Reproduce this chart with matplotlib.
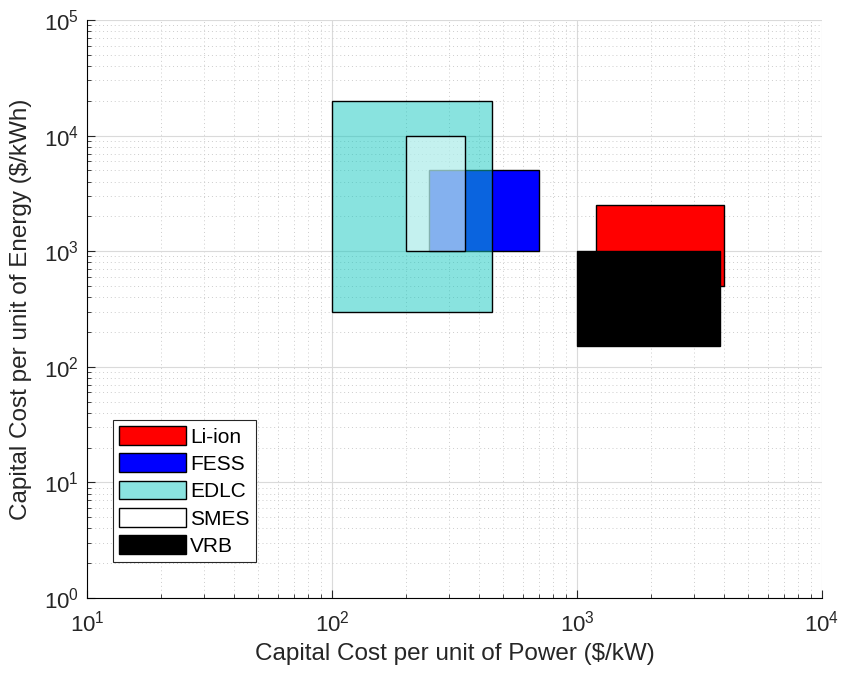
import matplotlib.pyplot as plt
from matplotlib.colors import to_rgb
from matplotlib.patches import Rectangle

plt.rcParams['font.family'] = ['Liberation Sans', 'DejaVu Sans']
plt.rcParams['mathtext.fontset'] = 'custom'
plt.rcParams['mathtext.rm'] = 'Liberation Sans'

# technologies: power cost range ($/kW) and energy cost range ($/kWh)
names = ["Li-ion", "FESS", "EDLC", "SMES", "VRB"]
power_lo = [1200, 250, 100, 200, 1000]
power_hi = [4000, 700, 450, 350, 3850]
energy_lo = [500, 1000, 300, 1000, 150]
energy_hi = [2500, 5000, 20000, 10000, 1000]
colors = ["#ff0000", "#0000ff", "#14c8c0", "#ffffff", "#000000"]
alphas = [1.0, 1.0, 0.5, 0.5, 1.0]

fig = plt.figure(figsize=(8.41, 6.76), dpi=100)
ax = fig.add_axes([0.1034, 0.1154, 0.874, 0.855])
ax.set_xscale("log")
ax.set_yscale("log")
ax.set_xlim(10, 1e4)
ax.set_ylim(1, 1e5)

handles = []
for i, name in enumerate(names):
    r = Rectangle((power_lo[i], energy_lo[i]), power_hi[i] - power_lo[i],
                  energy_hi[i] - energy_lo[i],
                  facecolor=(*to_rgb(colors[i]), alphas[i]),
                  edgecolor="black", linewidth=1.0, zorder=3 + i)
    ax.add_patch(r)
    handles.append(r)

ax.grid(True, which="major", color="#dadada", linewidth=0.8, linestyle="-")
ax.grid(True, which="minor", color="#cccccc", linewidth=0.7, linestyle=(0, (1, 3)))
ax.set_axisbelow(True)

ax.spines["top"].set_visible(False)
ax.spines["right"].set_visible(False)
ax.tick_params(which="both", direction="in", top=False, right=False,
               labelsize=16, color="#262626", labelcolor="#262626")
ax.tick_params(axis="x", which="major", length=6, pad=9)
ax.tick_params(axis="y", which="major", length=6, pad=6)
ax.tick_params(which="minor", length=3)

ax.set_xlabel("Capital Cost per unit of Power ($/kW)", fontsize=17.5, color="#262626",
              labelpad=5)
ax.set_ylabel("Capital Cost per unit of Energy ($/kWh)", fontsize=17.5, color="#262626",
              labelpad=8)

leg = ax.legend(handles, names, loc="lower left",
                bbox_to_anchor=(0.035, 0.062), fontsize=15, fancybox=False,
                edgecolor="#262626", framealpha=1, handlelength=3.2,
                handleheight=1.0, handletextpad=0.2, labelspacing=0.33,
                borderpad=0.3, borderaxespad=0)
leg.get_frame().set_linewidth(0.8)
for h in leg.legend_handles:
    fc = h.get_facecolor()
    a = fc[3]
    h.set_facecolor((fc[0] * a + 1 - a, fc[1] * a + 1 - a, fc[2] * a + 1 - a, 1))

fig.savefig("out.png", dpi=100)
